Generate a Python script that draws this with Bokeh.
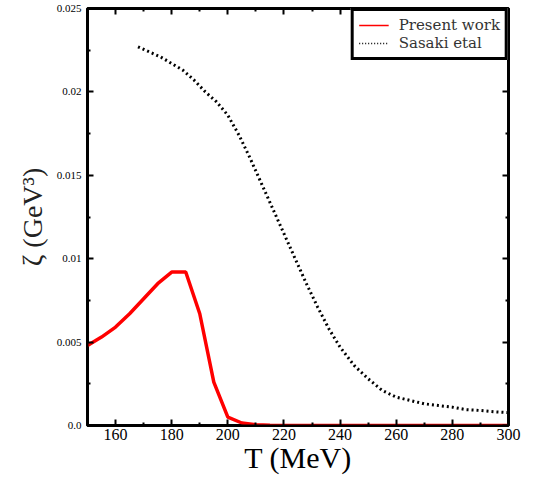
from bokeh.plotting import figure
from bokeh.models import (Range1d, FixedTicker, CustomJSTickFormatter, LinearAxis, Legend, LegendItem)
from bokeh.embed import file_html
from bokeh.resources import INLINE

# Present work
T_present = [150, 155, 160, 165, 170, 175, 180, 185, 190, 195, 200, 205, 210, 215, 220, 240, 260, 280, 300]
zeta_present = [0.0048, 0.0053, 0.0059, 0.0067, 0.0076, 0.0085, 0.0092, 0.0092, 0.0067, 0.0026, 0.0005,
                0.00015, 0.00005, 0.00002, 0.0, 0.0, 0.0, 0.0, 0.0]

# Sasaki et al
T_sasaki = [168, 172, 176, 180, 184, 188, 192, 196, 200, 204, 208, 212, 216, 220, 224, 228, 232, 236, 240,
            245, 250, 255, 260, 265, 270, 275, 280, 285, 290, 295, 300]
zeta_sasaki = [0.0227, 0.0224, 0.0221, 0.0217, 0.0213, 0.0207, 0.0200, 0.0194, 0.0186, 0.0174, 0.0160,
               0.0145, 0.0130, 0.0115, 0.0100, 0.0085, 0.0071, 0.0058, 0.0047, 0.0036, 0.0028, 0.0021,
               0.0017, 0.0015, 0.0013, 0.0012, 0.0011, 0.00095, 0.0009, 0.00082, 0.00077]

series_names = ["Present work", "Sasaki etal"]

x_ticks = [160, 180, 200, 220, 240, 260, 280, 300]
x_minor = [150, 170, 190, 210, 230, 250, 270, 290]
y_ticks = [0.0, 0.005, 0.01, 0.015, 0.02, 0.025]
y_minor = [0.0025, 0.0075, 0.0125, 0.0175, 0.0225]

p = figure(width=533, height=477, output_backend="svg", toolbar_location=None,
           x_range=Range1d(150, 300), y_range=Range1d(0, 0.025),
           min_border_left=87, min_border_right=25, min_border_top=8, min_border_bottom=52)
p.xgrid.visible = False
p.ygrid.visible = False
p.outline_line_color = "black"
p.outline_line_width = 3
p.background_fill_color = "white"
p.border_fill_color = "white"

p.line(T_present, zeta_present, line_color="#ff0000", line_width=3.5)
p.line(T_sasaki, zeta_sasaki, line_color="black", line_width=3, line_dash="2 3")

# legend-only thin samples (no visible data)
nan = float("nan")
l1 = p.line([nan], [nan], line_color="#ff0000", line_width=1.5)
l2 = p.line([nan], [nan], line_color="black", line_width=1.5, line_dash="1 2")

yfmt = CustomJSTickFormatter(code="""
if (Math.abs(tick) < 1e-12) return '0.0';
return String(Math.round(tick*1000)/1000);
""")

def style(ax, labels=True):
    ax.axis_line_color = "black"
    ax.axis_line_width = 2
    ax.major_tick_in = 6
    ax.major_tick_out = 0
    ax.minor_tick_in = 3
    ax.minor_tick_out = 0
    ax.major_tick_line_width = 2
    ax.minor_tick_line_width = 2
    if not labels:
        ax.major_label_text_font_size = "0px"
        ax.major_label_text_color = None

xa = p.xaxis[0]
xa.ticker = FixedTicker(ticks=x_ticks, minor_ticks=x_minor)
style(xa)
xa.major_label_text_font = "Liberation Serif"
xa.major_label_text_font_size = "16px"
xa.major_label_text_color = "black"
xa.major_label_standoff = 3
xa.axis_label = "T (MeV)"
xa.axis_label_text_font = "Liberation Serif"
xa.axis_label_text_font_style = "normal"
xa.axis_label_text_font_size = "30px"
xa.axis_label_standoff = -2
xa.axis_label_text_color = "black"

ya = p.yaxis[0]
ya.ticker = FixedTicker(ticks=y_ticks, minor_ticks=y_minor)
ya.formatter = yfmt
style(ya)
ya.major_label_text_font = "Liberation Serif"
ya.major_label_text_font_size = "11px"
ya.major_label_text_color = "black"
ya.major_label_standoff = 6
ya.major_label_orientation = "horizontal"
ya.axis_label = "ζ (GeV³)"
ya.axis_label_text_font = "Liberation Serif"
ya.axis_label_text_font_style = "normal"
ya.axis_label_text_font_size = "28px"
ya.axis_label_standoff = 6
ya.axis_label_text_color = "#222222"

top = LinearAxis(ticker=FixedTicker(ticks=x_ticks, minor_ticks=x_minor))
style(top, labels=False)
p.add_layout(top, "above")
right = LinearAxis(ticker=FixedTicker(ticks=y_ticks, minor_ticks=y_minor))
style(right, labels=False)
p.add_layout(right, "right")

legend = Legend(items=[LegendItem(label=series_names[0], renderers=[l1]),
                       LegendItem(label=series_names[1], renderers=[l2])],
                location="top_right")
legend.margin = 0
legend.padding = 5
legend.spacing = 0
legend.label_text_font = "DejaVu Serif"
legend.label_text_font_size = "15px"
legend.label_text_color = "#333333"
legend.label_height = 18
legend.glyph_height = 18
legend.glyph_width = 30
legend.label_standoff = 10
legend.border_line_color = "black"
legend.border_line_alpha = 1.0
legend.border_line_width = 3
legend.background_fill_alpha = 1.0
p.add_layout(legend, "center")

open("out.html", "w").write(file_html(p, INLINE))
